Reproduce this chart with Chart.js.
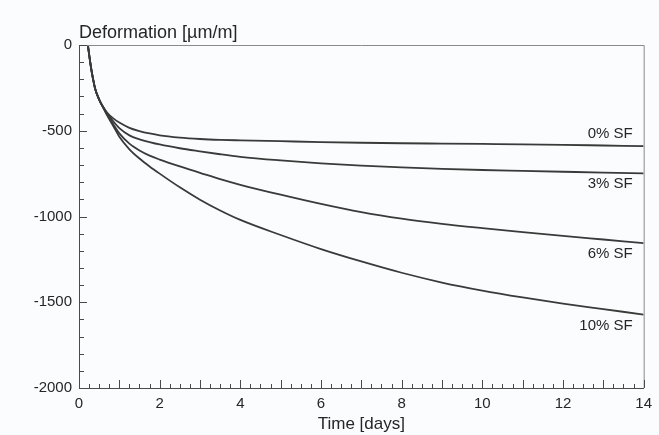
<!DOCTYPE html>
<html>
<head>
<meta charset="utf-8">
<script src="https://cdn.jsdelivr.net/npm/chart.js@4.4.1/dist/chart.umd.min.js"></script>
<style>
    html, body { margin: 0; padding: 0; background: #fbfcfd; }
    #wrap { width: 659px; height: 435px; }
</style>
</head>
<body>
<div id="wrap"><canvas id="deformation-chart" width="659" height="435"></canvas></div>
<script>
// time axis in days
const days = [0.22, 0.26, 0.3, 0.35, 0.4, 0.5, 0.6, 0.7, 0.85, 1, 1.25, 1.5, 1.75, 2, 2.5, 3, 3.5, 4, 5, 6, 7, 8, 9, 10, 11, 12, 13, 14];

// deformation in µm/m per silica fume content
const sf0  = [0, -70, -135, -200, -255, -318, -362, -395, -428, -452, -483, -502, -516, -527, -540, -548, -553, -556, -561, -566, -570, -573, -575, -577, -579, -582, -586, -590];
const sf3  = [0, -70, -135, -200, -255, -318, -362, -400, -445, -485, -527, -550, -566, -580, -602, -620, -637, -652, -673, -690, -703, -714, -722, -729, -734, -739, -744, -748];
const sf6  = [0, -70, -135, -200, -255, -318, -364, -405, -462, -515, -575, -615, -645, -668, -708, -745, -782, -815, -873, -927, -975, -1013, -1043, -1068, -1091, -1113, -1134, -1155];
const sf10 = [0, -70, -135, -200, -255, -318, -366, -412, -472, -535, -608, -662, -708, -750, -830, -902, -965, -1020, -1108, -1190, -1262, -1328, -1385, -1432, -1472, -1508, -1540, -1572];

const seriesLabels = ['0% SF', '3% SF', '6% SF', '10% SF'];
const seriesValues = [sf0, sf3, sf6, sf10];

const yTitle = 'Deformation [µm/m]';
const xTitle = 'Time [days]';

const colors = {
    line: '#3a3a3a',
    text: '#262626',
    axis: '#4a4a4a',
    frame: '#8a8a8a'
};
const fontFamily = '"Liberation Sans", Arial, Helvetica, sans-serif';

// inward ticks, grey frame, horizontal y title and series labels
const decorPlugin = {
    id: 'decor',
    afterDatasetsDraw(chart) {
        const { ctx, chartArea, scales } = chart;
        const { left, right, top, bottom } = chartArea;
        ctx.save();

        // frame top + right
        ctx.strokeStyle = colors.frame;
        ctx.lineWidth = 1;
        ctx.beginPath();
        ctx.moveTo(left, top + 0.5);
        ctx.lineTo(right + 0.5, top + 0.5);
        ctx.lineTo(right + 0.5, bottom);
        ctx.stroke();

        // y ticks every 100, long every 500
        ctx.strokeStyle = colors.axis;
        ctx.beginPath();
        for (let v = -2000; v <= 0; v += 100) {
            const y = Math.round(scales.y.getPixelForValue(v)) + 0.5;
            const len = v % 500 === 0 ? 8 : 5;
            ctx.moveTo(left, y);
            ctx.lineTo(left + len, y);
        }
        // x ticks every 0.25 day, long every day
        for (let i = 0; i <= 56; i++) {
            const d = i / 4;
            const x = Math.round(scales.x.getPixelForValue(d)) + 0.5;
            const len = i % 4 === 0 ? 8 : 4;
            ctx.moveTo(x, bottom);
            ctx.lineTo(x, bottom - len);
        }
        ctx.stroke();

        // y axis title, horizontal above the plot
        ctx.fillStyle = colors.text;
        ctx.font = '18px ' + fontFamily;
        ctx.textAlign = 'left';
        ctx.textBaseline = 'alphabetic';
        ctx.fillText(yTitle, left, top - 7);

        // labels at the end of each curve
        ctx.font = '15px ' + fontFamily;
        ctx.textAlign = 'right';
        ctx.textBaseline = 'middle';
        chart.data.datasets.forEach((ds, i) => {
            const pts = chart.getDatasetMeta(i).data;
            const last = pts[pts.length - 1];
            const dy = i === 0 ? -12 : 11;
            ctx.fillText(ds.label, right - 11, last.y + dy);
        });
        ctx.restore();
    }
};

const ctx = document.getElementById('deformation-chart').getContext('2d');

new Chart(ctx, {
    type: 'line',
    data: {
        datasets: seriesLabels.map((label, i) => ({
            label: label,
            data: days.map((d, j) => ({ x: d, y: seriesValues[i][j] })),
            borderColor: colors.line,
            borderWidth: 1.8,
            pointRadius: 0,
            fill: false,
            cubicInterpolationMode: 'monotone'
        }))
    },
    options: {
        responsive: false,
        animation: false,
        layout: {
            padding: { top: 45, right: 7, left: 0, bottom: 0 }
        },
        plugins: {
            legend: { display: false },
            tooltip: { enabled: false }
        },
        scales: {
            x: {
                type: 'linear',
                min: 0,
                max: 14,
                ticks: {
                    stepSize: 2,
                    color: colors.text,
                    padding: 7,
                    maxRotation: 0,
                    font: { size: 15, family: fontFamily }
                },
                grid: { display: false, drawTicks: false },
                border: { display: true, color: colors.axis, width: 1 },
                title: {
                    display: true,
                    text: xTitle,
                    color: colors.text,
                    padding: { top: 0, bottom: 0 },
                    font: { size: 17, family: fontFamily }
                },
                afterFit(scale) { scale.height = 47; }
            },
            y: {
                min: -2000,
                max: 0,
                ticks: {
                    stepSize: 500,
                    color: colors.text,
                    padding: 7,
                    font: { size: 15, family: fontFamily },
                    callback: function(value) {
                        return String(value);
                    }
                },
                grid: { display: false, drawTicks: false },
                border: { display: true, color: colors.axis, width: 1 },
                afterFit(scale) { scale.width = 79; }
            }
        }
    },
    plugins: [decorPlugin]
});
</script>
</body>
</html>
